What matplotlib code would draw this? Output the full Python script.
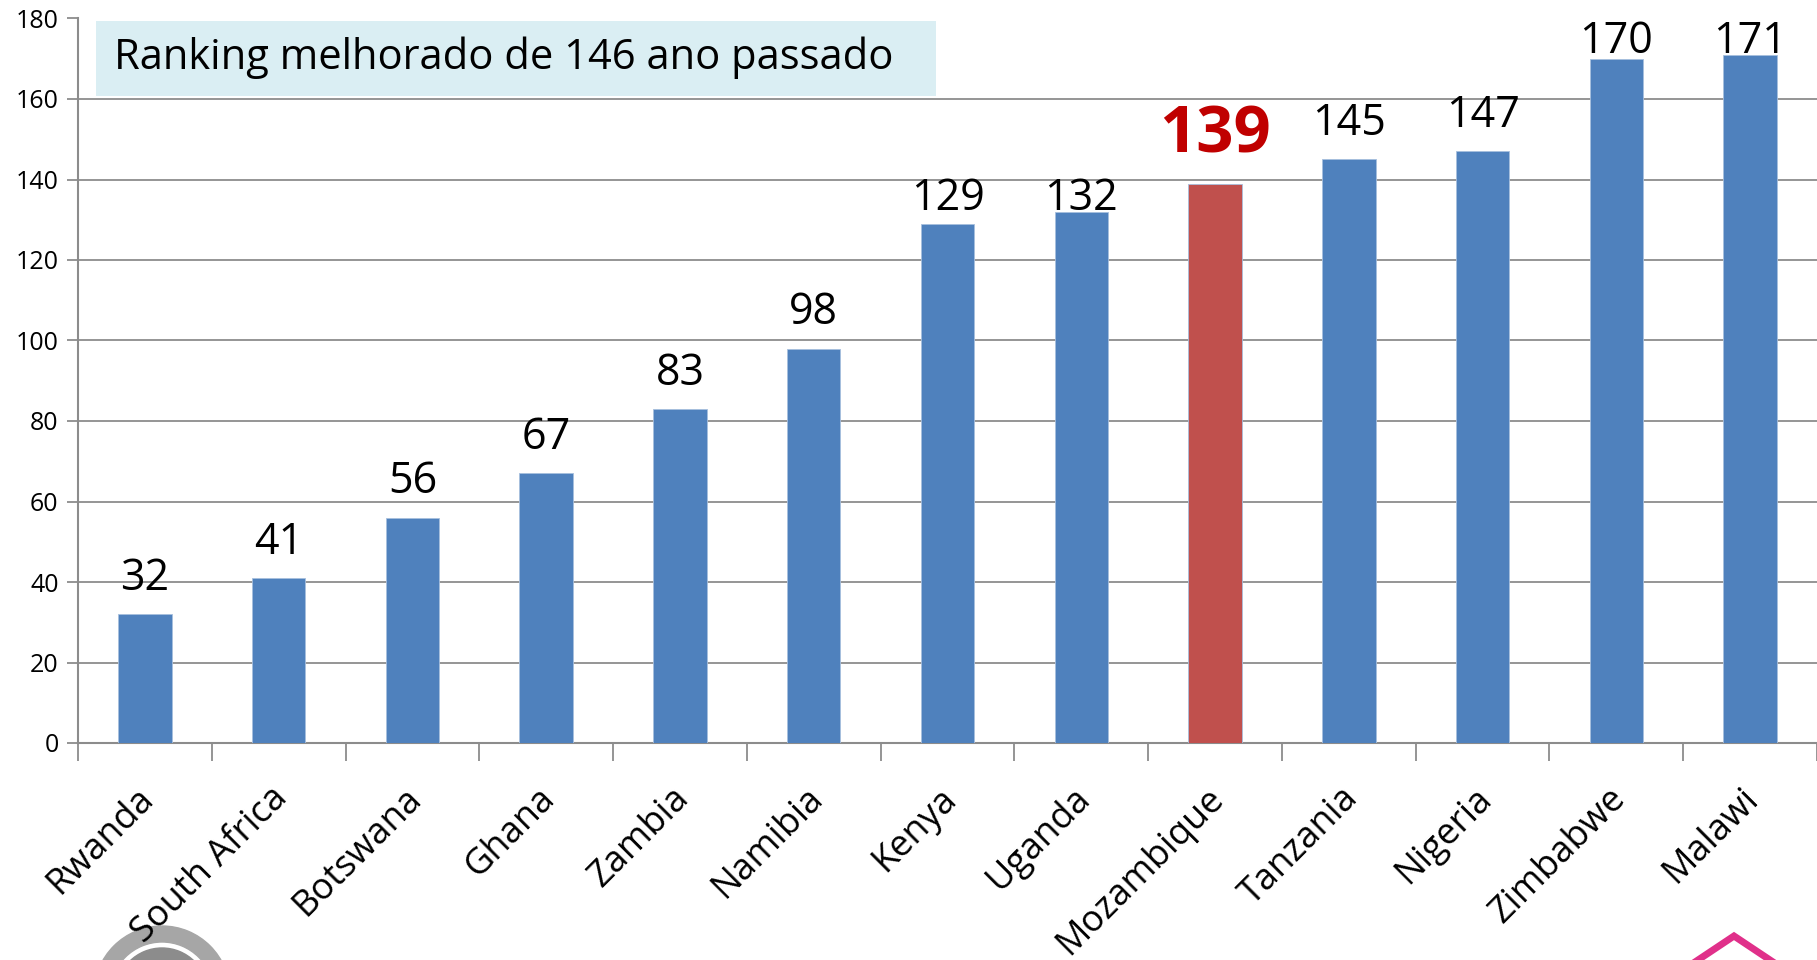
import matplotlib.pyplot as plt
import matplotlib.transforms as mtransforms
from matplotlib.patches import Wedge, Rectangle

countries = ["Rwanda", "South Africa", "Botswana", "Ghana", "Zambia", "Namibia",
             "Kenya", "Uganda", "Mozambique", "Tanzania", "Nigeria", "Zimbabwe", "Malawi"]
ranks = [32, 41, 56, 67, 83, 98, 129, 132, 139, 145, 147, 170, 171]
highlight = "Mozambique"
title_text = "Ranking melhorado de 146 ano passado"

blue = "#4F81BD"
red = "#C0504D"
grid_grey = "#8C8C8C"

plt.rcParams['font.family'] = ['Open Sans', 'DejaVu Sans']

fig = plt.figure(figsize=(18.17, 9.6), dpi=100)

# logos behind everything (partially cut at bottom)
back = fig.add_axes([0, 0, 1, 1], zorder=-1)
back.set_xlim(0, 1817)
back.set_ylim(960, 0)
back.axis("off")
back.add_patch(Wedge((162, 994), 68, 0, 360, width=16, color="#A6A6A6"))
back.add_patch(Wedge((162, 994), 46, 0, 360, width=12, color="#8C8C8C"))
back.plot([1695, 1734, 1773], [962, 936, 962], color="#E0308A", linewidth=5,
          solid_joinstyle="miter")

ax = fig.add_axes([78 / 1817, 1 - 743 / 960, 1 - 78 / 1817, (743 - 18.5) / 960])
ax.patch.set_alpha(0)

colors = [red if c == highlight else blue for c in countries]
x = list(range(len(countries)))
ax.bar(x, ranks, width=0.4, color=colors, edgecolor="#A7BFDE", linewidth=0.6, zorder=3)

# value labels: baseline a little above the bar, some pushed down like in the original
label_override = {"Kenya": 132.4, "Uganda": 132.4}
for i, (c, v) in enumerate(zip(countries, ranks)):
    if c == highlight:
        ax.text(i, v + 7.8, str(v), ha="center", va="baseline", fontsize=47,
                fontweight="bold", color="#C00000", zorder=4)
    else:
        yb = label_override.get(c, min(v + 6.0, 171.5))
        ax.text(i, yb, str(v), ha="center", va="baseline",
                fontsize=31, color="black", zorder=4)

ax.set_ylim(0, 180)
ax.set_xlim(-0.5, len(countries) - 0.5)
ax.set_yticks(range(0, 181, 20))
ax.tick_params(axis="y", labelsize=18, length=8, color=grid_grey, width=1.3, pad=6)
ax.yaxis.grid(True, color=grid_grey, linewidth=1.3, zorder=0)
ax.set_axisbelow(True)

ax.set_xticks(x)
ax.set_xticklabels(countries, rotation=45, ha="right", rotation_mode="anchor", fontsize=26)
ax.tick_params(axis="x", length=0, pad=27)
shift = mtransforms.ScaledTranslation(-9 / 100, 0, fig.dpi_scale_trans)
for lab in ax.get_xticklabels():
    lab.set_transform(lab.get_transform() + shift)
ax.set_xticks([i - 0.5 for i in range(len(countries) + 1)], minor=True)
ax.tick_params(axis="x", which="minor", length=13, color=grid_grey, width=1.3)

for s in ["top", "right"]:
    ax.spines[s].set_visible(False)
for s in ["left", "bottom"]:
    ax.spines[s].set_color(grid_grey)
    ax.spines[s].set_linewidth(1.5)

# title box on top of the grid
front = fig.add_axes([0, 0, 1, 1], zorder=5)
front.set_xlim(0, 1817)
front.set_ylim(960, 0)
front.axis("off")
front.patch.set_alpha(0)
front.add_patch(Rectangle((96, 21), 840, 75, facecolor="#DAEEF3", edgecolor="none"))
front.text(114, 58, title_text, fontsize=30, va="center", ha="left")

fig.savefig("out.png", dpi=100)
